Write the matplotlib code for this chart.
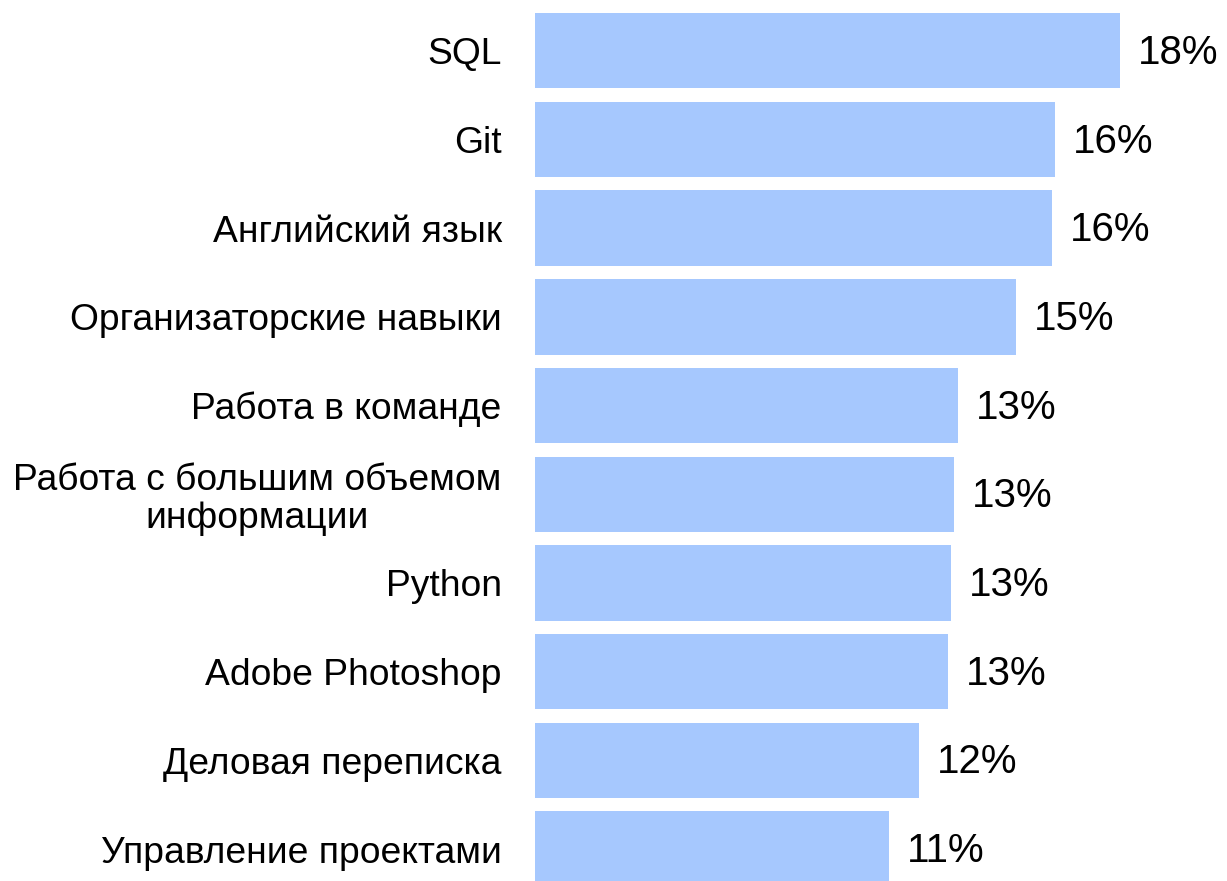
"""Horizontal bar chart of skill shares."""

import matplotlib

matplotlib.use("Agg")
import matplotlib.pyplot as plt

SKILLS = [
    "SQL",
    "Git",
    "Английский язык",
    "Организаторские навыки",
    "Работа в команде",
    "Работа с большим объемом\nинформации",
    "Python",
    "Adobe Photoshop",
    "Деловая переписка",
    "Управление проектами",
]
SHARES = [18.0, 16.0, 15.9, 14.8, 13.0, 12.9, 12.8, 12.7, 11.8, 10.9]

BAR_COLOR = "#a6c8fe"

plt.rcParams["font.family"] = ["Liberation Sans", "DejaVu Sans"]

W, H = 1227, 881
PITCH = 88.7  # pixels per bar slot
fig = plt.figure(figsize=(W / 100, H / 100), dpi=100)
ax = fig.add_axes([535 / W, 0, (W - 535) / W, (H - 13) / H])

positions = list(range(len(SKILLS)))
ax.barh(positions, SHARES, height=0.851, color=BAR_COLOR, edgecolor="none")
for pos, value in zip(positions, SHARES):
    ax.annotate(
        f"{round(value):d}%",
        xy=(value, pos),
        xytext=(13, -1.5),
        textcoords="offset points",
        ha="left",
        va="center",
        fontsize=29,
        color="black",
    )

ax.set_yticks(positions, SKILLS, fontsize=26.8, linespacing=1.12)
for label in ax.get_yticklabels():
    label.set_multialignment("center")
ax.set_ylim(-0.4255 + (H - 13) / PITCH, -0.4255)
ax.set_xlim(0, 18.0 * (W - 535) / 585)
ax.tick_params(axis="y", length=0, pad=24)
ax.set_xticks([])
for spine in ax.spines.values():
    spine.set_visible(False)

fig.savefig("out.png", dpi=100)
plt.close(fig)
